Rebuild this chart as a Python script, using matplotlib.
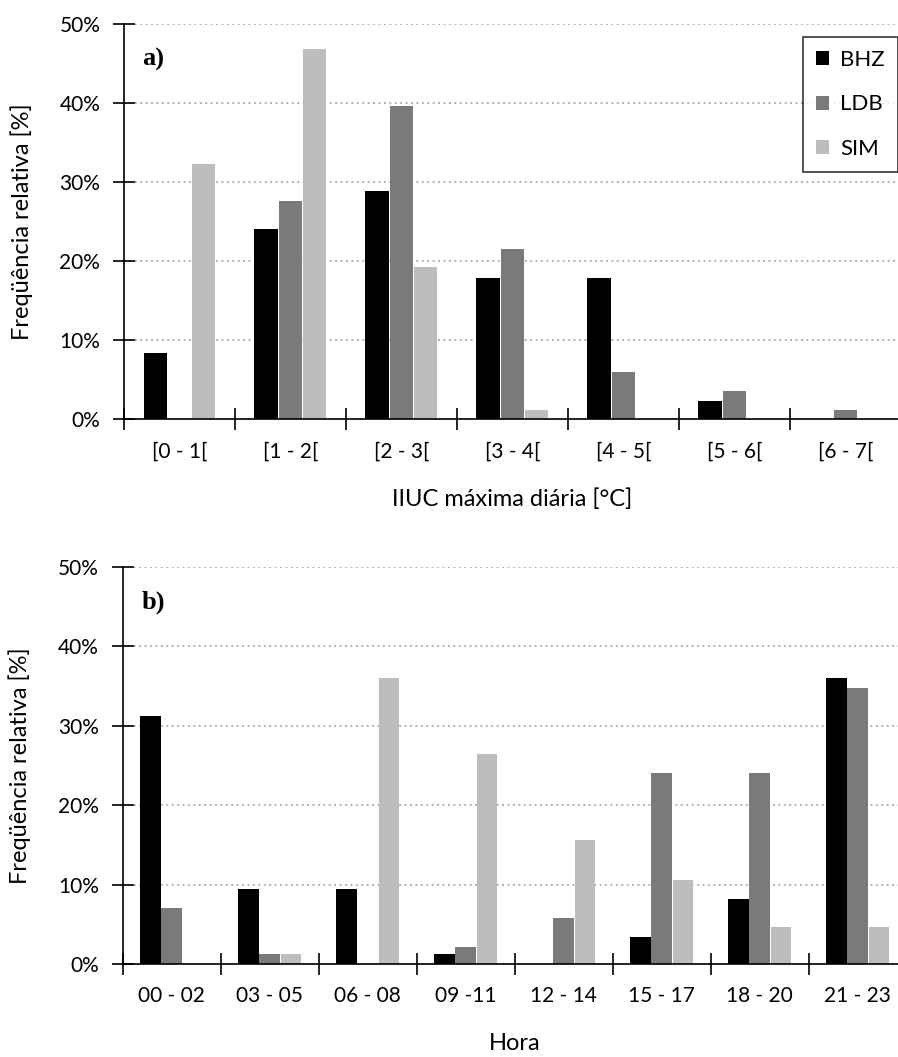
import numpy as np
import matplotlib
matplotlib.use("Agg")
import matplotlib.pyplot as plt
from matplotlib.ticker import PercentFormatter, MultipleLocator

plt.rcParams['font.family'] = ['Lato', 'DejaVu Sans']

# frequencias relativas (%) - IIUC maxima diaria
classes_iiuc = ['[0 - 1[', '[1 - 2[', '[2 - 3[', '[3 - 4[', '[4 - 5[', '[5 - 6[', '[6 - 7[']
bhz_iiuc = [8.3, 24.0, 28.8, 17.9, 17.9, 2.3, 0.0]
ldb_iiuc = [0.0, 27.6, 39.6, 21.5, 5.9, 3.5, 1.1]
sim_iiuc = [32.3, 46.8, 19.2, 1.1, 0.0, 0.0, 0.0]

# frequencias relativas (%) - hora de ocorrencia
classes_hora = ['00 - 02', '03 - 05', '06 - 08', '09 -11', '12 - 14', '15 - 17', '18 - 20', '21 - 23']
bhz_hora = [31.2, 9.4, 9.4, 1.2, 0.0, 3.4, 8.2, 36.0]
ldb_hora = [7.0, 1.2, 0.0, 2.2, 5.8, 24.0, 24.0, 34.8]
sim_hora = [0.0, 1.2, 36.0, 26.4, 15.6, 10.6, 4.6, 4.6]

estacoes = ['BHZ', 'LDB', 'SIM']
cores = ['#000000', '#7a7a7a', '#bdbdbd']

fig = plt.figure(figsize=(8.98, 10.57), dpi=100)
ax1 = fig.add_axes([0.138, 0.6036, 0.865, 0.3737])
ax2 = fig.add_axes([0.1366, 0.088, 0.873, 0.3756])


def painel(ax, classes, series, letra, xlabel, legenda=False):
    x = np.arange(len(classes))
    w = 0.21
    for i, (vals, nome, cor) in enumerate(zip(series, estacoes, cores)):
        ax.bar(x + (i - 1) * w * 1.04, vals, width=w, color=cor, edgecolor='none',
               label=nome, zorder=3)
    ax.set_xlim(-0.5, len(classes) - 0.5)
    ax.set_ylim(0, 50)
    ax.yaxis.set_major_locator(MultipleLocator(10))
    ax.yaxis.set_major_formatter(PercentFormatter(decimals=0))
    ax.set_xticks(x)
    ax.set_xticklabels(classes)
    ax.set_xticks(np.arange(-0.5, len(classes), 1.0), minor=True)
    ax.tick_params(axis='x', which='major', length=0, pad=16, labelsize=15)
    ax.tick_params(axis='x', which='minor', length=16, width=1.2, direction='inout')
    ax.tick_params(axis='y', which='major', length=16, width=1.2, direction='inout',
                   labelsize=15, pad=9)
    for s in ['top', 'right']:
        ax.spines[s].set_visible(False)
    for s in ['left', 'bottom']:
        ax.spines[s].set_linewidth(1.2)
        ax.spines[s].set_zorder(4)
    ax.yaxis.grid(True, linestyle=(0, (1, 2)), color='#a6a6a6', linewidth=1.3, zorder=0)
    ax.set_axisbelow(True)
    ax.set_ylabel('Freqüência relativa [%]', fontsize=17)
    ax.yaxis.set_label_coords(-0.117, 0.5)
    ax.set_xlabel(xlabel, fontsize=17)
    ax.xaxis.set_label_coords(0.5, -0.175)
    ax.text(0.024, 0.91, letra, transform=ax.transAxes, fontsize=19, fontweight='bold',
            family='Liberation Serif', va='center')
    if legenda:
        leg = ax.legend(loc='upper right', bbox_to_anchor=(0.997, 0.968), frameon=True,
                        fancybox=False, edgecolor='black', fontsize=16, handlelength=0.6,
                        handleheight=0.6, labelspacing=1.1, borderpad=0.6, handletextpad=0.5,
                        borderaxespad=0)
        leg.get_frame().set_linewidth(1.2)


painel(ax1, classes_iiuc, [bhz_iiuc, ldb_iiuc, sim_iiuc], 'a)', 'IIUC máxima diária [°C]', legenda=True)
painel(ax2, classes_hora, [bhz_hora, ldb_hora, sim_hora], 'b)', 'Hora')

fig.savefig('out.png', dpi=100)
